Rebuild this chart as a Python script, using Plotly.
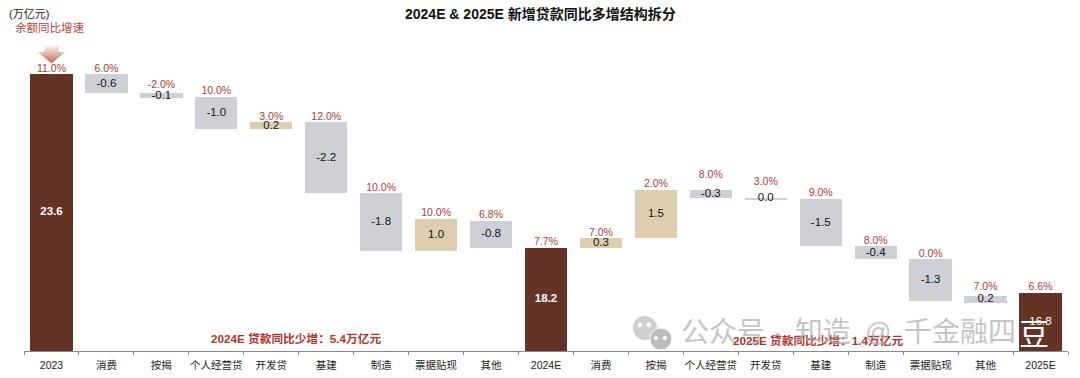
import plotly.graph_objects as go

categories = ["2023","消费","按揭","个人经营贷","开发贷","基建","制造","票据贴现","其他","2024E",
              "消费","按揭","个人经营贷","开发贷","基建","制造","票据贴现","其他","2025E"]
low =  [15.0,23.0,22.85,21.9,21.9,19.9,18.1,18.1,18.2,15.0,18.2,18.5,19.75,19.72,18.25,17.85,16.55,16.5,15.0]
high = [23.6,23.6,23.0,22.9,22.1,22.1,19.9,19.1,19.05,18.2,18.5,20.0,20.0,19.75,19.72,18.25,17.85,16.7,16.8]
labels = ["<b>23.6</b>","-0.6","-0.1","-1.0","0.2","-2.2","-1.8","1.0","-0.8","<b>18.2</b>",
          "0.3","1.5","-0.3","0.0","-1.5","-0.4","-1.3","0.2","16.8"]
growth = ["11.0%","6.0%","-2.0%","10.0%","3.0%","12.0%","10.0%","10.0%","6.8%","7.7%",
          "7.0%","2.0%","8.0%","3.0%","9.0%","8.0%","0.0%","7.0%","6.6%"]
growth_lift = [0,0,0.1,0,0,0,0,0,0,0,0,0,0.28,0.31,0,0,0,0.1,0]
kinds = ["t","d","d","d","u","d","d","u","d","t","u","u","d","d","d","d","d","d","t"]
palette = {"t":"#653226","d":"#ced0d5","u":"#dfcdb0"}

AXIS_MIN, AXIS_MAX = 15.0, 24.35
x = list(range(len(categories)))
mid = [(a+b)/2 for a,b in zip(low,high)]
label_colors = ["#ffffff" if k=="t" else "#111111" for k in kinds]

fig = go.Figure()
fig.add_bar(x=x, y=[h-l for h,l in zip(high,low)], base=low, width=0.77,
            marker=dict(color=[palette[k] for k in kinds], line_width=0), hoverinfo="skip")
fig.add_scatter(x=x, y=mid, mode="text", text=labels, textposition="middle center",
                textfont=dict(family="Liberation Sans", size=11.5, color=label_colors), hoverinfo="skip")
fig.add_scatter(x=x, y=[h+g for h,g in zip(high,growth_lift)], mode="text", text=growth, textposition="top center",
                textfont=dict(family="Liberation Sans", size=10.5, color="#a8403a"), hoverinfo="skip")

def txt(px, py, s, size, color, bold=False):
    fig.add_annotation(xref="paper", yref="paper", x=(px-23.5)/1045, y=(351-py)/301,
                       text=f"<b>{s}</b>" if bold else s, showarrow=False, xanchor="center", yanchor="middle",
                       font=dict(family="Liberation Sans, Noto Sans CJK SC", size=size, color=color))

shapes = []
def mix(t):
    a, b = (250,238,232), (190,112,92)
    return "rgb(%d,%d,%d)" % tuple(round(a[i]+(b[i]-a[i])*t) for i in range(3))
for py in range(46, 63):
    hw = 7.5 if py < 52 else 13*(63-py)/11
    shapes.append(dict(type="rect", xref="x", yref="paper", x0=-hw/55+0.0, x1=hw/55+0.0,
                       y0=(351-py-1)/301, y1=(351-py)/301, fillcolor=mix((py-46)/16), line_width=0))

def blob(cx, cy, r, col):
    shapes.append(dict(type="circle", xref="paper", yref="paper", x0=(cx-r-23.5)/1045, x1=(cx+r-23.5)/1045,
                       y0=(351-cy-r)/301, y1=(351-cy+r)/301, fillcolor=col, line=dict(color="#ffffff", width=1)))
blob(645,328,12.5,"#cfcfcf")
blob(661,339,11,"#bdbdbd")
for cx, cy, r in [(640,325,2),(649,325,2),(656,338,1.7),(665,338,1.7)]:
    blob(cx,cy,r,"#ffffff")

txt(540, 14, "2024E & 2025E 新增贷款同比多增结构拆分", 14, "#111111", True)
txt(29, 14, "(万亿元)", 11, "#222222")
txt(49, 28, "余额同比增速", 11.5, "#b5473e")
txt(296, 338, "2024E 贷款同比少增：5.4万亿元", 11.7, "#b0352e", True)
txt(818, 340, "2025E 贷款同比少增：1.4万亿元", 11.7, "#b0352e", True)
wm = "rgba(170,170,170,0.7)"
txt(723, 332, "公众号", 28, wm)
txt(778, 332, "·", 28, wm)
txt(823, 332, "知造", 28, wm)
txt(878, 332, "@", 26, wm)
txt(960, 332, "千金融四", 28, wm)
txt(1034, 334, "豆", 30, "#ffffff")

fig.update_layout(width=1080, height=378, margin=dict(l=23.5, r=11.5, t=50, b=27), autosize=False,
                  showlegend=False, plot_bgcolor="white", paper_bgcolor="white", shapes=shapes, bargap=0,
                  xaxis=dict(range=[-0.5,18.5], tickmode="array", tickvals=x, ticktext=categories, ticks="",
                             ticklabelstandoff=4, automargin=False,
                             showgrid=False, zeroline=False, showline=True, linecolor="#8a8a8a", linewidth=1,
                             tickfont=dict(family="Liberation Sans, Noto Sans CJK SC", size=10.5, color="#222222"),
                             tickangle=0, minor=dict(tickmode="array", tickvals=[i-0.5 for i in range(20)], ticks="outside", ticklen=3, tickcolor="#8a8a8a")),
                  yaxis=dict(range=[AXIS_MIN,AXIS_MAX], visible=False, showgrid=False, zeroline=False, automargin=False))
fig.write_html("out.html", config={"displayModeBar": False}, post_script="document.body.style.margin='0';document.body.style.overflow='hidden';")
